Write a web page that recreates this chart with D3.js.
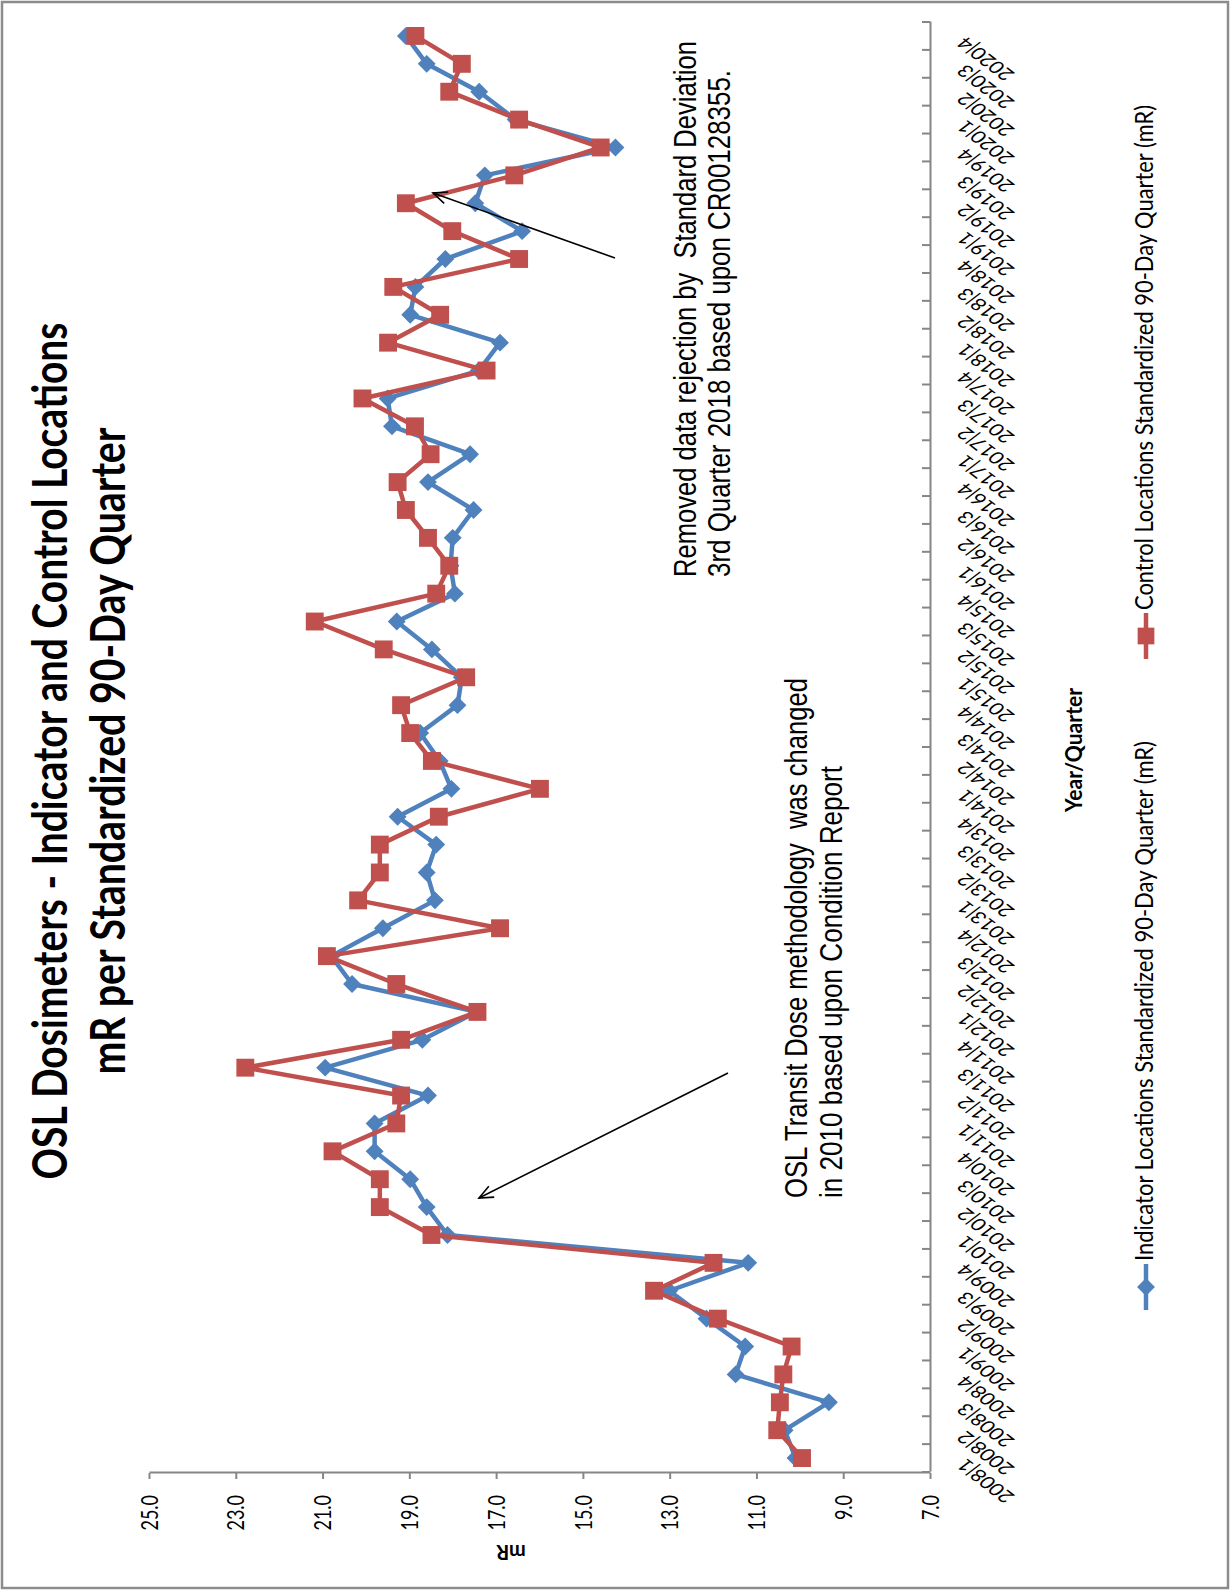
<!DOCTYPE html>
<html>
<head>
<meta charset="utf-8">
<script src="https://cdn.jsdelivr.net/npm/d3@7"></script>
<style>
  body { margin: 0; background: #fff; }
</style>
</head>
<body>
<div id="chart"></div>
<script>
// Year|Quarter categories
const quarters = [
  "2008|1","2008|2","2008|3","2008|4","2009|1","2009|2","2009|3","2009|4",
  "2010|1","2010|2","2010|3","2010|4","2011|1","2011|2","2011|3","2011|4",
  "2012|1","2012|2","2012|3","2012|4","2013|1","2013|2","2013|3","2013|4",
  "2014|1","2014|2","2014|3","2014|4","2015|1","2015|2","2015|3","2015|4",
  "2016|1","2016|2","2016|3","2016|4","2017|1","2017|2","2017|3","2017|4",
  "2018|1","2018|2","2018|3","2018|4","2019|1","2019|2","2019|3","2019|4",
  "2020|1","2020|2","2020|3","2020|4"
];

// Indicator Locations Standardized 90-Day Quarter (mR)
const indicator = [
  10.1, 10.35, 9.33, 11.48, 11.26, 12.15, 13.01, 11.19,
  18.12, 18.6, 18.98, 19.8, 19.8, 18.57, 20.94, 18.7,
  17.45, 20.32, 20.8, 19.61, 18.41, 18.6, 18.38, 19.27,
  18.03, 18.3, 18.75, 17.89, 17.79, 18.48, 19.29, 17.95,
  18.05, 18.0, 17.52, 18.57, 17.6, 19.4, 19.5, 17.4,
  16.91, 18.98, 18.86, 18.17, 16.4, 17.48, 17.26, 14.25,
  16.55, 17.39, 18.6, 19.08
];

// Control Locations Standardized 90-Day Quarter (mR)
const control = [
  9.95, 10.52, 10.46, 10.38, 10.19, 11.89, 13.36, 11.99,
  18.49, 19.68, 19.68, 20.77, 19.3, 19.19, 22.78, 19.19,
  17.43, 19.3, 20.9, 16.91, 20.18, 19.68, 19.68, 18.32,
  15.99, 18.48, 18.98, 19.19, 17.69, 19.59, 21.18, 18.38,
  18.08, 18.57, 19.08, 19.27, 18.51, 18.87, 20.08, 17.22,
  19.49, 18.29, 19.37, 16.47, 18.01, 19.08, 16.58, 14.59,
  16.47, 18.08, 17.79, 18.86
];

const valueTicks = [7, 9, 11, 13, 15, 17, 19, 21, 23, 25];

const W = 1231, H = 1591;
const blue = "#4F81BD", red = "#C0504D", axisGrey = "#868686";
const stretch = 1.3; // text in the picture looks stretched across the page

const svg = d3.select("#chart").append("svg")
    .attr("width", W)
    .attr("height", H);

// outer frame
svg.append("rect")
    .attr("x", 2).attr("y", 2)
    .attr("width", W - 5).attr("height", H - 5)
    .attr("fill", "none")
    .attr("stroke", "#8c8c8c")
    .attr("stroke-width", 2.5);

// The chart is printed sideways: draw it upright inside g, then turn it
const g = svg.append("g")
    .attr("transform", `translate(0,${H}) rotate(-90)`);

const defs = svg.append("defs");
defs.append("marker")
    .attr("id", "arrow")
    .attr("markerUnits", "userSpaceOnUse")
    .attr("viewBox", "-15 -8 17 16")
    .attr("refX", 0).attr("refY", 0)
    .attr("markerWidth", 17).attr("markerHeight", 16)
    .attr("orient", "auto")
    .append("path")
    .attr("d", "M-14,-6 L0,0 L-14,6")
    .attr("fill", "none")
    .attr("stroke", "#000")
    .attr("stroke-width", 1.6);

// Scales
const x = d3.scaleBand()
    .domain(quarters)
    .range([119, 1569]);

const y = d3.scaleLinear()
    .domain([7, 25])
    .range([930, 149]);

const cx = (d, i) => x(quarters[i]) + x.bandwidth() / 2;

// Value axis (mR)
const yAxis = g.append("g")
    .attr("transform", "translate(118,0)")
    .call(d3.axisLeft(y)
        .tickValues(valueTicks)
        .tickFormat(d3.format(".1f"))
        .tickSizeInner(6)
        .tickSizeOuter(0));
yAxis.select(".domain").attr("stroke", axisGrey).attr("stroke-width", 2);
yAxis.selectAll(".tick line").attr("stroke", axisGrey).attr("stroke-width", 2);
yAxis.selectAll(".tick text")
    .attr("x", -22)
    .attr("dy", "0.35em")
    .attr("transform", `scale(1,${stretch})`)
    .style("font-family", "Lato, 'Open Sans', sans-serif")
    .style("font-size", "18px")
    .attr("fill", "#000");

// Category axis (Year/Quarter)
const xAxis = g.append("g")
    .attr("transform", "translate(0,930)")
    .call(d3.axisBottom(x)
        .tickSizeInner(0)
        .tickSizeOuter(0)
        .tickPadding(0));
xAxis.select(".domain").attr("stroke", axisGrey).attr("stroke-width", 2);
xAxis.selectAll(".tick line").remove();
xAxis.selectAll(".tick text")
    .attr("x", 0).attr("y", 0)
    .attr("dy", "0.35em")
    .attr("text-anchor", "end")
    .attr("transform", `translate(-4,31) scale(1,${stretch}) rotate(-45)`)
    .style("font-family", "Lato, 'Open Sans', sans-serif")
    .style("font-size", "17px")
    .attr("fill", "#000");

// category ticks sit on the band edges and point into the plot
const edges = quarters.map(q => x(q)).concat([x.range()[1]]);
g.append("g").selectAll("line")
    .data(edges)
    .enter().append("line")
    .attr("x1", d => d).attr("x2", d => d)
    .attr("y1", 930).attr("y2", 922)
    .attr("stroke", axisGrey)
    .attr("stroke-width", 2);

// Series
const line = d3.line()
    .x(cx)
    .y(d => y(d));

function drawSeries(values, color, symbol, size, rotate) {
    g.append("path")
        .datum(values)
        .attr("fill", "none")
        .attr("stroke", color)
        .attr("stroke-width", 4.5)
        .attr("stroke-linejoin", "round")
        .attr("d", line);
    g.append("g").selectAll("path")
        .data(values)
        .enter().append("path")
        .attr("d", d3.symbol(symbol, size))
        .attr("transform", (d, i) => `translate(${cx(d, i)},${y(d)}) rotate(${rotate})`)
        .attr("fill", color);
}
drawSeries(indicator, blue, d3.symbolSquare, 160, 45);
drawSeries(control, red, d3.symbolSquare, 320, 0);

// stretched text: placed at (px, py), glyphs taller by `stretch`
function stretchedText(parent, px, py, str, opts) {
    const t = parent.append("text")
        .attr("transform", `translate(${px},${py}) scale(1,${stretch})`)
        .attr("x", 0).attr("y", 0)
        .attr("text-anchor", opts.anchor || "start")
        .style("font-family", opts.family)
        .style("font-size", opts.size + "px")
        .style("font-weight", opts.weight || "normal")
        .style("white-space", "pre")
        .text(str);
    if (opts.len) {
        t.attr("textLength", opts.len).attr("lengthAdjust", "spacingAndGlyphs");
    }
    return t;
}

// Title
const titleLines = ["OSL Dosimeters - Indicator and Control Locations", "mR per Standardized 90-Day Quarter"];
const titleBase = [67, 125];
const titleLen = [857, 647];
titleLines.forEach((t, k) => {
    stretchedText(g, 840, titleBase[k], t, {
        anchor: "middle", family: "Lato, 'Open Sans', sans-serif",
        size: 36, weight: "bold", len: titleLen[k]
    });
});

// Axis titles
stretchedText(g, 841, 1082, "Year/Quarter", {
    anchor: "middle", family: "Lato, 'Open Sans', sans-serif",
    size: 18, weight: "bold", len: 124
});

g.append("text")
    .attr("transform", "translate(46,511) rotate(-90)")
    .attr("text-anchor", "middle")
    .style("font-family", "Lato, 'Open Sans', sans-serif")
    .style("font-weight", "bold")
    .style("font-size", "20px")
    .text("mR");

// Annotations
const notes = [
    {lines: ["Removed data rejection by  Standard Deviation", "3rd Quarter 2018 based upon CR00128355."],
     start: 1014, base: [696, 730], len: [536, 507]},
    {lines: ["OSL Transit Dose methodology  was changed", "in 2010 based upon Condition Report"],
     start: 393, base: [807, 842], len: [520, 432]}
];
notes.forEach(n => {
    n.lines.forEach((t, k) => {
        stretchedText(g, n.start, n.base[k], t, {
            family: "'Liberation Sans', Arial, sans-serif",
            size: 24, len: n.len[k]
        });
    });
});

// arrows pointing at the notes
const arrows = [
    {from: [1333, 615], to: [1398, 433]},
    {from: [518, 728], to: [393, 479]}
];
g.append("g").selectAll("line")
    .data(arrows)
    .enter().append("line")
    .attr("x1", d => d.from[0]).attr("y1", d => d.from[1])
    .attr("x2", d => d.to[0]).attr("y2", d => d.to[1])
    .attr("stroke", "#000")
    .attr("stroke-width", 1.6)
    .attr("marker-end", "url(#arrow)");

// Legend
const legend = [
    {name: "Indicator Locations Standardized 90-Day Quarter (mR)", color: blue, pos: 304, len: 520, size: 160, rotate: 45},
    {name: "Control Locations Standardized 90-Day Quarter (mR)", color: red, pos: 955, len: 505, size: 280, rotate: 0}
];
const leg = g.append("g").selectAll("g")
    .data(legend)
    .enter().append("g")
    .attr("transform", d => `translate(${d.pos},1146)`);
leg.append("line")
    .attr("x1", -23).attr("x2", 23)
    .attr("stroke", d => d.color)
    .attr("stroke-width", 4.5);
leg.append("path")
    .attr("d", d => d3.symbol(d3.symbolSquare, d.size)())
    .attr("transform", d => `rotate(${d.rotate})`)
    .attr("fill", d => d.color);
leg.each(function(d) {
    stretchedText(d3.select(this), 26, 7, d.name, {
        family: "Lato, 'Open Sans', sans-serif", size: 19, len: d.len
    });
});
</script>
</body>
</html>
